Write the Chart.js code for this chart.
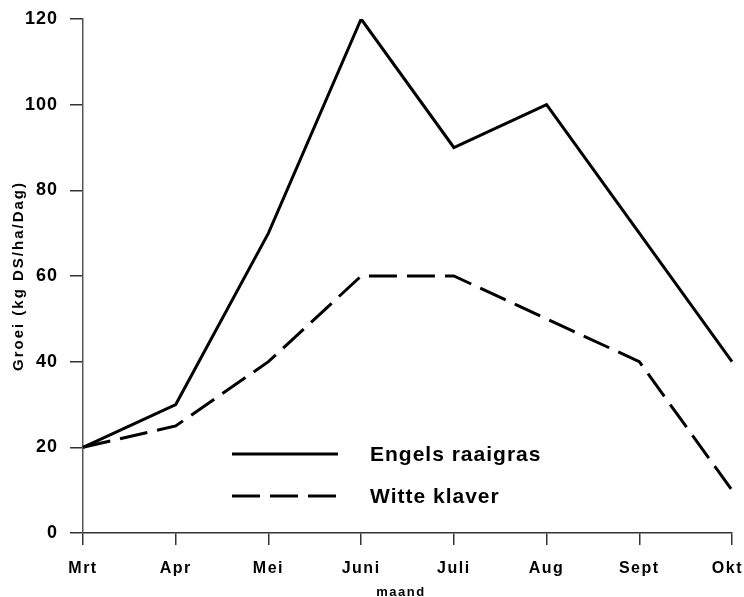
<!DOCTYPE html>
<html>
<head>
<meta charset="utf-8">
<script src="https://cdn.jsdelivr.net/npm/chart.js@4"></script>
<style>
  html, body { margin: 0; padding: 0; background: #fff; }
  #wrap { width: 744px; height: 597px; position: relative; }
</style>
</head>
<body>
<div id="wrap"><canvas id="chart" width="744" height="597"></canvas></div>
<script>
'use strict';

// maanden en groei (kg DS/ha/Dag)
const MONTHS = ['Mrt', 'Apr', 'Mei', 'Juni', 'Juli', 'Aug', 'Sept', 'Okt'];
const RAAIGRAS = [20, 30, 70, 120, 90, 100, 70, 40];
const KLAVER = [20, 25, 40, 60, 60, 50, 40, 10];
const Y_TICKS = [0, 20, 40, 60, 80, 100, 120];

const FONT = '"Liberation Sans", Arial, sans-serif';

// the original uses a slightly spaced-out font everywhere
const spacing = {
  id: 'spacing',
  beforeLayout(chart) { chart.ctx.letterSpacing = '1px'; },
  beforeDraw(chart) { chart.ctx.letterSpacing = '1px'; },
};

// month labels (kept inside the canvas at the right edge), axis titles, legend
const extras = {
  id: 'extras',
  afterDraw(chart) {
    const ctx = chart.ctx;
    const area = chart.chartArea;
    const xs = chart.scales.x;
    ctx.save();
    ctx.fillStyle = '#000';
    ctx.textBaseline = 'middle';

    // x tick labels
    ctx.font = 'bold 16px ' + FONT;
    ctx.letterSpacing = '1.5px';
    ctx.textAlign = 'center';
    MONTHS.forEach((m, i) => {
      const w = ctx.measureText(m).width;
      let x = xs.getPixelForValue(i);
      x = Math.min(x, chart.width - 1 - w / 2);
      ctx.fillText(m, x, 569);
    });

    // y title
    ctx.font = 'bold 15px ' + FONT;
    ctx.letterSpacing = '2px';
    ctx.save();
    ctx.translate(19, (area.top + area.bottom) / 2);
    ctx.rotate(-Math.PI / 2);
    ctx.fillText('Groei (kg DS/ha/Dag)', 0, 0);
    ctx.restore();

    // x title
    ctx.font = 'bold 13px ' + FONT;
    ctx.letterSpacing = '1.5px';
    ctx.fillText('maand', 401, 592);

    // legend
    const rows = [
      { label: 'Engels raaigras', dash: [], y: 454 },
      { label: 'Witte klaver', dash: [28, 10], y: 496 },
    ];
    rows.forEach(r => {
      ctx.beginPath();
      ctx.setLineDash(r.dash);
      ctx.lineWidth = 3;
      ctx.strokeStyle = '#000';
      ctx.moveTo(232, r.y);
      ctx.lineTo(338, r.y);
      ctx.stroke();
      ctx.setLineDash([]);
      ctx.font = 'bold 21px ' + FONT;
      ctx.letterSpacing = '1px';
      ctx.textAlign = 'left';
      ctx.fillText(r.label, 370, r.y + 1);
    });
    ctx.restore();
  }
};

new Chart(document.getElementById('chart'), {
  type: 'line',
  data: {
    labels: MONTHS,
    datasets: [
      {
        label: 'Engels raaigras',
        data: RAAIGRAS,
        borderColor: '#000',
        borderWidth: 3,
        pointRadius: 0,
        tension: 0,
        fill: false,
      },
      {
        label: 'Witte klaver',
        data: KLAVER,
        borderColor: '#000',
        borderWidth: 3,
        borderDash: [28, 10],
        pointRadius: 0,
        tension: 0,
        fill: false,
      },
    ],
  },
  options: {
    responsive: false,
    animation: false,
    layout: { padding: { top: 19, right: 12, bottom: 0, left: 0 } },
    plugins: {
      legend: { display: false },
      tooltip: { enabled: false },
    },
    scales: {
      x: {
        offset: false,
        grid: { drawOnChartArea: false, drawTicks: true, tickLength: 12, color: '#333', lineWidth: 1.5 },
        border: { display: true, color: '#333', width: 1.5 },
        ticks: { display: false, autoSkip: false },
        afterFit: s => { s.height = 64; s.paddingLeft = 0; s.paddingRight = 0; },
      },
      y: {
        min: 0,
        max: 120,
        afterBuildTicks: s => { s.ticks = Y_TICKS.map(v => ({ value: v })); },
        grid: { drawOnChartArea: false, drawTicks: true, tickLength: 13, color: '#333', lineWidth: 1.5 },
        border: { display: true, color: '#555', width: 1.5 },
        ticks: { color: '#000', font: { family: FONT, size: 18, weight: 'bold' }, padding: 12 },
        afterFit: s => { s.width = 83; s.paddingTop = 0; s.paddingBottom = 0; },
      },
    },
  },
  plugins: [spacing, extras],
});
</script>
</body>
</html>
